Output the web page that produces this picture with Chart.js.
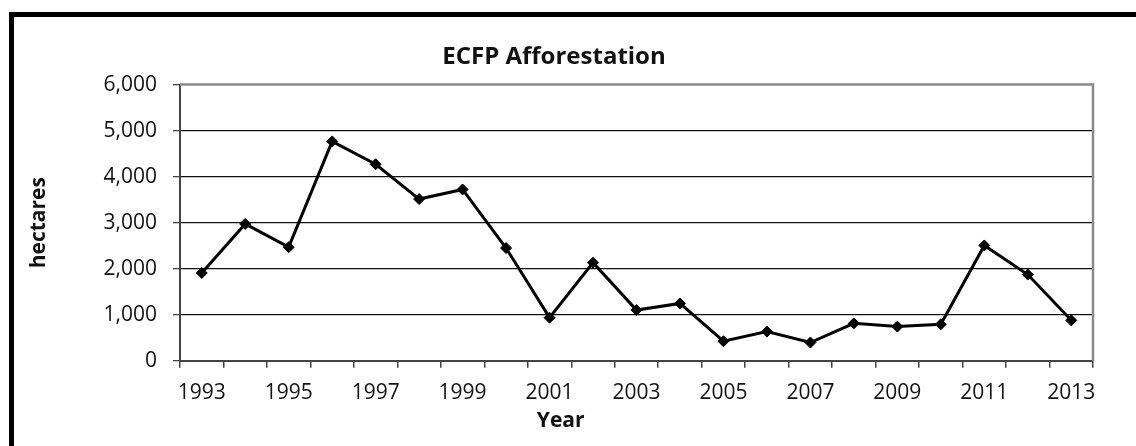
<!DOCTYPE html>
<html>
<head>
<meta charset="utf-8">
<script src="https://cdn.jsdelivr.net/npm/chart.js@4"></script>
<style>
  html, body { margin: 0; padding: 0; background: #fff; overflow: hidden; }
  #wrap { position: relative; width: 1136px; height: 446px; }
  /* thick outer frame, cropped on right and bottom */
  #frame { position: absolute; left: 9px; top: 12px; width: 1200px; height: 500px;
           border: 5px solid #000; box-sizing: border-box; pointer-events: none; }
  canvas { position: absolute; left: 0; top: 0; }
</style>
</head>
<body>
<div id="wrap">
  <canvas id="chart" width="1136" height="446"></canvas>
  <div id="frame"></div>
</div>
<script>
// ── data ──
const YEARS = ['1993','1994','1995','1996','1997','1998','1999','2000','2001','2002','2003',
               '2004','2005','2006','2007','2008','2009','2010','2011','2012','2013'];
const HECTARES = [1908, 2973, 2469, 4766, 4270, 3513, 3722, 2449, 937, 2132, 1102,
                  1246, 425, 635, 397, 814, 743, 793, 2506, 1873, 879];
const Y_MAX = 6000;
const Y_STEP = 1000;

const FONT = "'Open Sans', 'Liberation Sans', sans-serif";
const TEXT = '#111';

// gray border on top/right of plot area + "Year" label sitting off-centre
const plotExtras = {
  id: 'plotExtras',
  afterDraw(chart) {
    const { ctx, chartArea: a } = chart;
    ctx.save();
    ctx.strokeStyle = '#8a8a8a';
    ctx.lineWidth = 2.5;
    ctx.beginPath();
    ctx.moveTo(a.left, a.top);
    ctx.lineTo(a.right, a.top);
    ctx.lineTo(a.right, a.bottom);
    ctx.stroke();

    ctx.fillStyle = TEXT;
    ctx.font = `bold 21px ${FONT}`;
    ctx.textAlign = 'center';
    ctx.textBaseline = 'middle';
    ctx.fillText('Year', a.left + (a.right - a.left) * 0.417, 421);
    ctx.restore();
  },
};

new Chart(document.getElementById('chart'), {
  type: 'line',
  data: {
    labels: YEARS,
    datasets: [{
      label: 'ECFP Afforestation',
      data: HECTARES,
      borderColor: '#000',
      backgroundColor: '#000',
      borderWidth: 3,
      tension: 0,
      pointStyle: 'rectRot',
      pointRadius: 5.5,
      pointBackgroundColor: '#000',
      pointBorderColor: '#000',
      pointBorderWidth: 1,
    }],
  },
  options: {
    responsive: false,
    animation: false,
    layout: { padding: { left: 15, right: 43, top: 0, bottom: 27 } },
    plugins: {
      legend: { display: false },
      tooltip: { enabled: false },
      title: {
        display: true,
        text: 'ECFP Afforestation',
        color: TEXT,
        font: { family: FONT, size: 24, weight: 'bold' },
        padding: { top: 43, bottom: 12.8 },
      },
    },
    scales: {
      x: {
        offset: true,
        grid: {
          offset: true,
          drawOnChartArea: false,
          drawTicks: true,
          tickLength: 7,
          tickColor: '#444',
          lineWidth: 1.5,
        },
        border: { color: '#444', width: 2 },
        ticks: {
          color: TEXT,
          font: { family: FONT, size: 21 },
          padding: 13,
          autoSkip: false,
          maxRotation: 0,
          callback: (v, i) => (i % 2 === 0 ? YEARS[i] : ''),
        },
      },
      y: {
        min: 0,
        max: Y_MAX,
        afterFit: (s) => { s.width = 165; },
        grid: {
          color: (c) => (c.tick && c.tick.value === Y_MAX ? 'rgba(0,0,0,0)' : '#111'),
          lineWidth: 1.3,
          tickLength: 7,
          tickColor: '#444',
        },
        border: { color: '#444', width: 2 },
        ticks: {
          stepSize: Y_STEP,
          color: TEXT,
          font: { family: FONT, size: 21 },
          padding: 16,
          callback: (v) => v.toLocaleString('en-US'),
        },
        title: {
          display: true,
          text: 'hectares',
          color: TEXT,
          font: { family: FONT, size: 21, weight: 'bold' },
          padding: { top: 11, bottom: 0 },
        },
      },
    },
  },
  plugins: [plotExtras],
});
</script>
</body>
</html>
